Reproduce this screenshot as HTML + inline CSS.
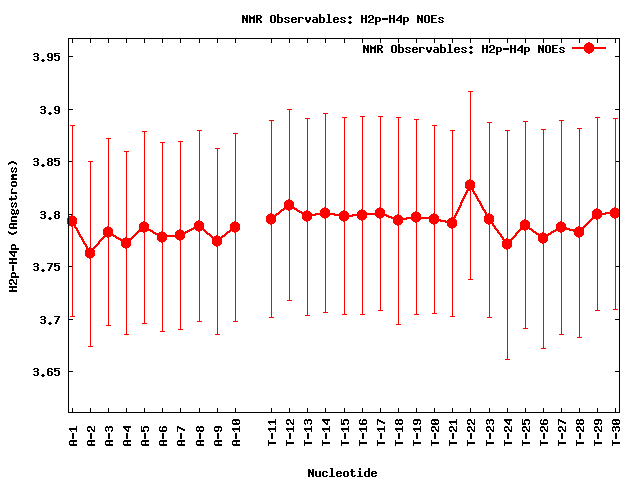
<!DOCTYPE html>
<html lang="en"><head><meta charset="utf-8"><title>NMR Observables: H2p-H4p NOEs</title>
<style>
html,body{margin:0;padding:0;background:#fff;overflow:hidden}
#c{position:absolute;left:0;top:0;width:640px;height:480px;background:#fff;overflow:hidden;font-family:"Liberation Mono",monospace;font-weight:bold;font-size:11.667px;line-height:13px}
#c svg{position:absolute;left:0;top:0;display:block}
.t{position:absolute;height:13px;white-space:pre;color:transparent;letter-spacing:0;overflow:hidden}
.v{transform-origin:0 0;transform:rotate(-90deg)}
</style></head><body>
<div id="c">
<svg width="640" height="480" viewBox="0 0 640 480" shape-rendering="crispEdges" role="img" aria-label="NMR Observables: H2p-H4p NOEs">
<rect width="640" height="480" fill="#fff"/>
<path fill="#f00" d="M588 42h2v1h-2zM586 43h6v1h-6zM585 44h8v1h-8zM584 45h10v2h-10zM572 47h34v2h-34zM584 49h10v2h-10zM585 51h8v1h-8zM586 52h6v1h-6zM588 53h2v1h-2zM468 91h5v1h-5zM470 92h1v87h-1zM287 109h5v1h-5zM289 110h1v89h-1zM323 113h5v1h-5zM325 114h1v93h-1zM360 116h5v1h-5zM378 116h5v1h-5zM342 117h5v1h-5zM362 117h1v92h-1zM380 117h1v90h-1zM396 117h5v1h-5zM595 117h5v1h-5zM305 118h5v1h-5zM344 118h1v92h-1zM398 118h1v96h-1zM597 118h1v90h-1zM613 118h5v1h-5zM307 119h1v91h-1zM414 119h5v1h-5zM615 119h1v88h-1zM269 120h5v1h-5zM416 120h1v91h-1zM559 120h5v1h-5zM271 121h1v92h-1zM523 121h5v1h-5zM561 121h1v100h-1zM487 122h5v1h-5zM525 122h1v97h-1zM489 123h1v90h-1zM70 125h5v1h-5zM432 125h5v1h-5zM72 126h1v89h-1zM434 126h1v87h-1zM577 128h5v1h-5zM541 129h5v1h-5zM579 129h1v97h-1zM197 130h5v1h-5zM450 130h5v1h-5zM505 130h5v1h-5zM543 130h1v102h-1zM142 131h5v1h-5zM199 131h1v89h-1zM452 131h1v86h-1zM507 131h1v107h-1zM144 132h1v89h-1zM233 133h5v1h-5zM235 134h1v87h-1zM106 138h5v1h-5zM108 139h1v87h-1zM178 141h5v1h-5zM160 142h5v1h-5zM180 142h1v87h-1zM162 143h1v88h-1zM215 148h5v1h-5zM217 149h1v86h-1zM124 151h5v1h-5zM126 152h1v85h-1zM88 161h5v1h-5zM90 162h1v85h-1zM469 179h2v1h-2zM467 180h6v1h-6zM466 181h8v1h-8zM465 182h10v6h-10zM466 188h8v1h-8zM467 189h7v1h-7zM466 190h5v1h-5zM472 190h2v1h-2zM466 191h2v1h-2zM470 191h1v88h-1zM472 191h3v1h-3zM465 192h3v1h-3zM473 192h2v1h-2zM465 193h2v1h-2zM473 193h3v1h-3zM464 194h3v1h-3zM474 194h3v1h-3zM464 195h2v1h-2zM475 195h2v1h-2zM463 196h3v1h-3zM475 196h3v1h-3zM463 197h2v1h-2zM476 197h2v1h-2zM462 198h3v1h-3zM476 198h3v1h-3zM288 199h2v1h-2zM462 199h2v1h-2zM477 199h2v1h-2zM286 200h6v1h-6zM461 200h3v1h-3zM477 200h3v1h-3zM285 201h8v1h-8zM461 201h2v1h-2zM478 201h3v1h-3zM284 202h10v5h-10zM460 202h3v1h-3zM479 202h2v1h-2zM460 203h2v2h-2zM479 203h3v1h-3zM480 204h2v1h-2zM459 205h3v1h-3zM480 205h3v1h-3zM459 206h2v1h-2zM481 206h2v1h-2zM284 207h11v1h-11zM324 207h2v1h-2zM379 207h2v1h-2zM458 207h3v1h-3zM481 207h3v1h-3zM614 207h2v1h-2zM283 208h14v1h-14zM322 208h6v1h-6zM377 208h6v1h-6zM458 208h2v1h-2zM482 208h2v1h-2zM596 208h2v1h-2zM612 208h6v1h-6zM281 209h4v1h-4zM286 209h6v1h-6zM294 209h4v1h-4zM321 209h8v1h-8zM361 209h2v1h-2zM376 209h8v1h-8zM457 209h3v1h-3zM482 209h3v1h-3zM594 209h6v1h-6zM611 209h8v1h-8zM280 210h4v1h-4zM288 210h2v1h-2zM296 210h4v1h-4zM306 210h2v1h-2zM320 210h10v3h-10zM343 210h2v1h-2zM359 210h6v1h-6zM375 210h10v3h-10zM457 210h2v1h-2zM483 210h3v1h-3zM593 210h8v1h-8zM610 210h9v2h-9zM279 211h3v1h-3zM289 211h1v89h-1zM297 211h5v1h-5zM304 211h6v1h-6zM341 211h6v1h-6zM358 211h8v1h-8zM415 211h2v1h-2zM456 211h3v1h-3zM484 211h2v1h-2zM592 211h10v2h-10zM278 212h3v1h-3zM299 212h12v1h-12zM340 212h8v1h-8zM357 212h10v1h-10zM413 212h6v1h-6zM456 212h2v1h-2zM484 212h3v1h-3zM605 212h14v1h-14zM270 213h2v1h-2zM276 213h4v1h-4zM301 213h11v1h-11zM315 213h20v1h-20zM339 213h10v1h-10zM357 213h28v1h-28zM412 213h8v1h-8zM433 213h2v1h-2zM455 213h3v1h-3zM485 213h2v1h-2zM488 213h2v1h-2zM592 213h27v1h-27zM268 214h6v1h-6zM275 214h4v1h-4zM302 214h47v1h-47zM352 214h35v1h-35zM397 214h2v1h-2zM411 214h10v3h-10zM431 214h6v1h-6zM455 214h2v1h-2zM485 214h7v1h-7zM592 214h14v1h-14zM610 214h9v2h-9zM71 215h2v1h-2zM267 215h10v1h-10zM302 215h14v1h-14zM320 215h10v1h-10zM334 215h33v1h-33zM375 215h14v1h-14zM395 215h6v1h-6zM430 215h8v1h-8zM454 215h3v1h-3zM485 215h8v1h-8zM592 215h10v2h-10zM69 216h6v1h-6zM266 216h10v6h-10zM302 216h10v3h-10zM321 216h8v1h-8zM339 216h14v1h-14zM357 216h10v2h-10zM376 216h8v1h-8zM386 216h6v1h-6zM394 216h8v1h-8zM429 216h10v1h-10zM454 216h2v1h-2zM484 216h10v6h-10zM611 216h8v1h-8zM69 217h7v1h-7zM322 217h6v1h-6zM339 217h10v2h-10zM377 217h6v1h-6zM388 217h15v1h-15zM406 217h33v1h-33zM451 217h5v1h-5zM592 217h9v1h-9zM612 217h6v1h-6zM67 218h1v6h-1zM69 218h8v6h-8zM324 218h2v1h-2zM358 218h8v1h-8zM379 218h2v1h-2zM391 218h48v1h-48zM449 218h6v1h-6zM591 218h9v1h-9zM614 218h2v1h-2zM303 219h8v1h-8zM325 219h1v93h-1zM340 219h8v1h-8zM359 219h6v1h-6zM380 219h1v91h-1zM393 219h14v1h-14zM411 219h10v1h-10zM429 219h12v1h-12zM448 219h8v1h-8zM524 219h2v1h-2zM590 219h3v1h-3zM596 219h2v1h-2zM615 219h1v90h-1zM198 220h2v1h-2zM304 220h6v1h-6zM341 220h6v1h-6zM361 220h2v1h-2zM393 220h10v3h-10zM412 220h8v1h-8zM429 220h17v1h-17zM447 220h10v1h-10zM522 220h6v1h-6zM589 220h3v1h-3zM597 220h1v90h-1zM143 221h2v1h-2zM196 221h6v1h-6zM234 221h2v1h-2zM306 221h2v1h-2zM343 221h2v1h-2zM362 221h1v93h-1zM413 221h6v1h-6zM429 221h10v1h-10zM440 221h17v1h-17zM521 221h8v1h-8zM560 221h2v1h-2zM588 221h3v1h-3zM141 222h6v1h-6zM195 222h8v1h-8zM232 222h6v1h-6zM267 222h8v1h-8zM307 222h1v93h-1zM344 222h1v92h-1zM415 222h2v1h-2zM430 222h8v1h-8zM445 222h12v1h-12zM485 222h8v1h-8zM520 222h10v6h-10zM558 222h6v1h-6zM587 222h3v1h-3zM140 223h8v1h-8zM194 223h10v4h-10zM231 223h8v1h-8zM268 223h6v1h-6zM394 223h8v1h-8zM416 223h1v91h-1zM431 223h6v1h-6zM447 223h10v3h-10zM486 223h8v1h-8zM557 223h8v1h-8zM586 223h3v1h-3zM69 224h7v2h-7zM139 224h10v5h-10zM230 224h10v6h-10zM270 224h2v1h-2zM395 224h6v1h-6zM433 224h2v1h-2zM488 224h2v1h-2zM492 224h2v1h-2zM556 224h10v3h-10zM585 224h3v1h-3zM271 225h1v92h-1zM397 225h2v1h-2zM434 225h1v88h-1zM489 225h1v92h-1zM492 225h3v1h-3zM584 225h3v1h-3zM71 226h2v1h-2zM74 226h2v1h-2zM107 226h2v1h-2zM398 226h1v98h-1zM448 226h8v1h-8zM493 226h3v1h-3zM578 226h2v1h-2zM583 226h3v1h-3zM72 227h1v89h-1zM74 227h3v1h-3zM105 227h6v1h-6zM193 227h11v1h-11zM449 227h6v1h-6zM494 227h2v1h-2zM556 227h11v1h-11zM576 227h9v1h-9zM75 228h3v1h-3zM104 228h8v1h-8zM191 228h13v1h-13zM451 228h2v1h-2zM494 228h3v1h-3zM520 228h12v1h-12zM556 228h14v1h-14zM575 228h9v1h-9zM76 229h2v1h-2zM103 229h10v5h-10zM139 229h12v1h-12zM179 229h2v1h-2zM189 229h5v1h-5zM195 229h10v1h-10zM452 229h1v87h-1zM495 229h3v1h-3zM519 229h9v1h-9zM529 229h4v1h-4zM555 229h29v1h-29zM76 230h3v1h-3zM138 230h15v1h-15zM177 230h6v1h-6zM187 230h5v1h-5zM196 230h6v1h-6zM203 230h3v1h-3zM229 230h10v1h-10zM496 230h3v1h-3zM518 230h3v1h-3zM524 230h2v1h-2zM531 230h3v1h-3zM553 230h12v1h-12zM569 230h15v1h-15zM77 231h2v1h-2zM137 231h10v1h-10zM150 231h4v1h-4zM161 231h2v1h-2zM176 231h8v1h-8zM185 231h5v1h-5zM198 231h2v1h-2zM204 231h3v1h-3zM227 231h4v1h-4zM232 231h6v1h-6zM497 231h2v1h-2zM517 231h3v1h-3zM525 231h1v97h-1zM532 231h4v1h-4zM551 231h5v1h-5zM558 231h6v1h-6zM573 231h11v1h-11zM77 232h3v1h-3zM136 232h3v1h-3zM143 232h2v1h-2zM152 232h4v1h-4zM159 232h6v1h-6zM175 232h13v1h-13zM199 232h1v89h-1zM205 232h3v1h-3zM226 232h4v1h-4zM234 232h2v1h-2zM497 232h3v1h-3zM516 232h3v1h-3zM533 232h4v1h-4zM542 232h2v1h-2zM550 232h4v1h-4zM560 232h2v1h-2zM574 232h10v3h-10zM78 233h2v1h-2zM135 233h3v1h-3zM144 233h1v90h-1zM153 233h13v1h-13zM175 233h11v1h-11zM206 233h4v1h-4zM225 233h3v1h-3zM235 233h1v88h-1zM498 233h3v1h-3zM515 233h3v1h-3zM535 233h4v1h-4zM540 233h6v1h-6zM548 233h4v1h-4zM561 233h1v101h-1zM78 234h3v1h-3zM103 234h11v1h-11zM134 234h3v1h-3zM155 234h12v1h-12zM175 234h10v1h-10zM207 234h4v1h-4zM224 234h3v1h-3zM499 234h3v1h-3zM515 234h2v1h-2zM536 234h15v1h-15zM79 235h2v1h-2zM104 235h12v1h-12zM133 235h3v1h-3zM157 235h28v2h-28zM209 235h3v1h-3zM216 235h2v1h-2zM222 235h4v1h-4zM500 235h2v1h-2zM514 235h3v1h-3zM538 235h11v1h-11zM575 235h8v1h-8zM79 236h3v1h-3zM103 236h8v1h-8zM113 236h4v1h-4zM132 236h3v1h-3zM210 236h3v1h-3zM214 236h6v1h-6zM221 236h4v1h-4zM500 236h3v1h-3zM513 236h3v1h-3zM538 236h10v5h-10zM576 236h6v1h-6zM80 237h3v1h-3zM102 237h3v1h-3zM107 237h2v1h-2zM115 237h4v1h-4zM125 237h2v1h-2zM131 237h3v1h-3zM157 237h10v3h-10zM175 237h10v1h-10zM211 237h12v1h-12zM501 237h3v1h-3zM512 237h3v1h-3zM578 237h2v1h-2zM81 238h2v1h-2zM101 238h3v1h-3zM108 238h1v87h-1zM116 238h5v1h-5zM123 238h10v1h-10zM176 238h8v1h-8zM212 238h10v6h-10zM502 238h2v1h-2zM506 238h2v1h-2zM511 238h3v1h-3zM579 238h1v99h-1zM81 239h3v1h-3zM100 239h3v1h-3zM118 239h14v1h-14zM177 239h6v1h-6zM502 239h11v1h-11zM82 240h2v1h-2zM99 240h3v1h-3zM120 240h11v1h-11zM158 240h8v1h-8zM179 240h2v1h-2zM503 240h9v1h-9zM82 241h3v1h-3zM98 241h3v1h-3zM121 241h10v5h-10zM159 241h6v1h-6zM180 241h1v88h-1zM502 241h10v6h-10zM539 241h8v1h-8zM83 242h2v1h-2zM98 242h2v1h-2zM161 242h2v1h-2zM540 242h6v1h-6zM83 243h3v1h-3zM97 243h3v1h-3zM162 243h1v88h-1zM542 243h2v1h-2zM84 244h3v1h-3zM96 244h3v1h-3zM213 244h8v1h-8zM543 244h1v104h-1zM85 245h2v1h-2zM95 245h3v1h-3zM214 245h6v1h-6zM85 246h3v1h-3zM94 246h3v1h-3zM122 246h8v1h-8zM216 246h2v1h-2zM86 247h2v1h-2zM89 247h2v1h-2zM93 247h3v1h-3zM123 247h6v1h-6zM217 247h1v87h-1zM503 247h8v1h-8zM86 248h9v1h-9zM125 248h2v1h-2zM504 248h6v1h-6zM86 249h8v1h-8zM126 249h1v85h-1zM506 249h2v1h-2zM85 250h10v6h-10zM507 250h1v109h-1zM86 256h8v1h-8zM87 257h6v1h-6zM89 258h2v1h-2zM90 259h1v87h-1zM468 279h5v1h-5zM287 300h5v1h-5zM613 309h5v1h-5zM378 310h5v1h-5zM595 310h5v1h-5zM323 312h5v1h-5zM432 313h5v1h-5zM342 314h5v1h-5zM360 314h5v1h-5zM414 314h5v1h-5zM305 315h5v1h-5zM70 316h5v1h-5zM450 316h5v1h-5zM269 317h5v1h-5zM487 317h5v1h-5zM197 321h5v1h-5zM233 321h5v1h-5zM142 323h5v1h-5zM396 324h5v1h-5zM106 325h5v1h-5zM523 328h5v1h-5zM178 329h5v1h-5zM160 331h5v1h-5zM124 334h5v1h-5zM215 334h5v1h-5zM559 334h5v1h-5zM577 337h5v1h-5zM88 346h5v1h-5zM541 348h5v1h-5zM505 359h5v1h-5z"/>
<path fill="#000" d="M277 14h2v3h-2zM319 14h2v3h-2zM327 14h3v1h-3zM242 15h2v1h-2zM246 15h2v3h-2zM249 15h1v1h-1zM254 15h1v1h-1zM256 15h5v1h-5zM271 15h4v1h-4zM328 15h2v7h-2zM361 15h2v3h-2zM365 15h2v3h-2zM369 15h4v1h-4zM389 15h2v3h-2zM393 15h2v3h-2zM400 15h2v1h-2zM417 15h2v1h-2zM421 15h2v3h-2zM425 15h4v1h-4zM431 15h6v1h-6zM242 16h3v2h-3zM249 16h2v1h-2zM253 16h2v1h-2zM256 16h2v2h-2zM260 16h2v2h-2zM270 16h2v6h-2zM274 16h2v6h-2zM349 16h2v1h-2zM368 16h2v2h-2zM372 16h2v3h-2zM399 16h3v1h-3zM417 16h3v2h-3zM424 16h2v6h-2zM428 16h2v6h-2zM431 16h2v2h-2zM249 17h6v2h-6zM277 17h5v1h-5zM285 17h4v1h-4zM292 17h4v1h-4zM298 17h5v1h-5zM305 17h2v3h-2zM309 17h2v3h-2zM313 17h4v1h-4zM319 17h5v1h-5zM334 17h4v1h-4zM341 17h4v1h-4zM348 17h4v1h-4zM375 17h5v1h-5zM398 17h4v1h-4zM403 17h5v1h-5zM439 17h4v1h-4zM242 18h6v1h-6zM256 18h5v1h-5zM277 18h2v4h-2zM281 18h2v4h-2zM284 18h2v1h-2zM288 18h2v1h-2zM291 18h2v1h-2zM295 18h2v1h-2zM298 18h2v5h-2zM302 18h2v1h-2zM316 18h2v1h-2zM319 18h2v4h-2zM323 18h2v4h-2zM333 18h2v1h-2zM337 18h2v1h-2zM340 18h2v1h-2zM344 18h2v1h-2zM349 18h2v1h-2zM361 18h6v1h-6zM375 18h2v3h-2zM379 18h2v3h-2zM382 18h6v2h-6zM389 18h6v1h-6zM397 18h2v1h-2zM400 18h2v2h-2zM403 18h2v3h-2zM407 18h2v3h-2zM417 18h6v1h-6zM431 18h5v1h-5zM438 18h2v1h-2zM442 18h2v1h-2zM242 19h2v4h-2zM245 19h3v2h-3zM249 19h2v4h-2zM253 19h2v4h-2zM256 19h4v1h-4zM285 19h2v1h-2zM291 19h6v1h-6zM313 19h5v1h-5zM333 19h6v1h-6zM341 19h2v1h-2zM361 19h2v4h-2zM365 19h2v4h-2zM370 19h3v1h-3zM389 19h2v4h-2zM393 19h2v4h-2zM396 19h2v1h-2zM417 19h2v4h-2zM420 19h3v2h-3zM431 19h2v3h-2zM439 19h2v1h-2zM256 20h2v3h-2zM259 20h2v1h-2zM287 20h2v1h-2zM291 20h2v2h-2zM306 20h4v2h-4zM312 20h2v2h-2zM316 20h2v2h-2zM333 20h2v2h-2zM343 20h2v1h-2zM369 20h2v1h-2zM396 20h6v1h-6zM441 20h2v1h-2zM246 21h2v2h-2zM260 21h2v2h-2zM284 21h2v1h-2zM288 21h2v1h-2zM295 21h2v1h-2zM337 21h2v1h-2zM340 21h2v1h-2zM344 21h2v1h-2zM349 21h2v1h-2zM368 21h2v1h-2zM375 21h5v1h-5zM400 21h2v2h-2zM403 21h5v1h-5zM421 21h2v2h-2zM438 21h2v1h-2zM442 21h2v1h-2zM271 22h4v1h-4zM277 22h5v1h-5zM285 22h4v1h-4zM292 22h4v1h-4zM307 22h2v1h-2zM313 22h5v1h-5zM319 22h5v1h-5zM326 22h6v1h-6zM334 22h4v1h-4zM341 22h4v1h-4zM348 22h4v1h-4zM368 22h6v1h-6zM375 22h2v3h-2zM403 22h2v3h-2zM425 22h4v1h-4zM431 22h6v1h-6zM439 22h4v1h-4zM349 23h2v1h-2zM68 38h552v1h-552zM68 39h1v17h-1zM72 39h1v4h-1zM90 39h1v4h-1zM108 39h1v4h-1zM126 39h1v4h-1zM144 39h1v4h-1zM162 39h1v4h-1zM180 39h1v4h-1zM199 39h1v4h-1zM217 39h1v4h-1zM235 39h1v4h-1zM271 39h1v4h-1zM289 39h1v4h-1zM307 39h1v4h-1zM325 39h1v4h-1zM344 39h1v4h-1zM362 39h1v4h-1zM380 39h1v4h-1zM398 39h1v4h-1zM416 39h1v4h-1zM434 39h1v4h-1zM452 39h1v4h-1zM470 39h1v4h-1zM489 39h1v4h-1zM507 39h1v4h-1zM525 39h1v4h-1zM543 39h1v4h-1zM561 39h1v4h-1zM579 39h1v4h-1zM597 39h1v4h-1zM615 39h1v4h-1zM619 39h1v17h-1zM398 44h2v3h-2zM440 44h2v3h-2zM448 44h3v1h-3zM363 45h2v1h-2zM367 45h2v3h-2zM370 45h1v1h-1zM375 45h1v1h-1zM377 45h5v1h-5zM392 45h4v1h-4zM449 45h2v7h-2zM482 45h2v3h-2zM486 45h2v3h-2zM490 45h4v1h-4zM510 45h2v3h-2zM514 45h2v3h-2zM521 45h2v1h-2zM538 45h2v1h-2zM542 45h2v3h-2zM546 45h4v1h-4zM552 45h6v1h-6zM363 46h3v2h-3zM370 46h2v1h-2zM374 46h2v1h-2zM377 46h2v2h-2zM381 46h2v2h-2zM391 46h2v6h-2zM395 46h2v6h-2zM470 46h2v1h-2zM489 46h2v2h-2zM493 46h2v3h-2zM520 46h3v1h-3zM538 46h3v2h-3zM545 46h2v6h-2zM549 46h2v6h-2zM552 46h2v2h-2zM370 47h6v2h-6zM398 47h5v1h-5zM406 47h4v1h-4zM413 47h4v1h-4zM419 47h5v1h-5zM426 47h2v3h-2zM430 47h2v3h-2zM434 47h4v1h-4zM440 47h5v1h-5zM455 47h4v1h-4zM462 47h4v1h-4zM469 47h4v1h-4zM496 47h5v1h-5zM519 47h4v1h-4zM524 47h5v1h-5zM560 47h4v1h-4zM363 48h6v1h-6zM377 48h5v1h-5zM398 48h2v4h-2zM402 48h2v4h-2zM405 48h2v1h-2zM409 48h2v1h-2zM412 48h2v1h-2zM416 48h2v1h-2zM419 48h2v5h-2zM423 48h2v1h-2zM437 48h2v1h-2zM440 48h2v4h-2zM444 48h2v4h-2zM454 48h2v1h-2zM458 48h2v1h-2zM461 48h2v1h-2zM465 48h2v1h-2zM470 48h2v1h-2zM482 48h6v1h-6zM496 48h2v3h-2zM500 48h2v3h-2zM503 48h6v2h-6zM510 48h6v1h-6zM518 48h2v1h-2zM521 48h2v2h-2zM524 48h2v3h-2zM528 48h2v3h-2zM538 48h6v1h-6zM552 48h5v1h-5zM559 48h2v1h-2zM563 48h2v1h-2zM363 49h2v4h-2zM366 49h3v2h-3zM370 49h2v4h-2zM374 49h2v4h-2zM377 49h4v1h-4zM406 49h2v1h-2zM412 49h6v1h-6zM434 49h5v1h-5zM454 49h6v1h-6zM462 49h2v1h-2zM482 49h2v4h-2zM486 49h2v4h-2zM491 49h3v1h-3zM510 49h2v4h-2zM514 49h2v4h-2zM517 49h2v1h-2zM538 49h2v4h-2zM541 49h3v2h-3zM552 49h2v3h-2zM560 49h2v1h-2zM377 50h2v3h-2zM380 50h2v1h-2zM408 50h2v1h-2zM412 50h2v2h-2zM427 50h4v2h-4zM433 50h2v2h-2zM437 50h2v2h-2zM454 50h2v2h-2zM464 50h2v1h-2zM490 50h2v1h-2zM517 50h6v1h-6zM562 50h2v1h-2zM367 51h2v2h-2zM381 51h2v2h-2zM405 51h2v1h-2zM409 51h2v1h-2zM416 51h2v1h-2zM458 51h2v1h-2zM461 51h2v1h-2zM465 51h2v1h-2zM470 51h2v1h-2zM489 51h2v1h-2zM496 51h5v1h-5zM521 51h2v2h-2zM524 51h5v1h-5zM542 51h2v2h-2zM559 51h2v1h-2zM563 51h2v1h-2zM392 52h4v1h-4zM398 52h5v1h-5zM406 52h4v1h-4zM413 52h4v1h-4zM428 52h2v1h-2zM434 52h5v1h-5zM440 52h5v1h-5zM447 52h6v1h-6zM455 52h4v1h-4zM462 52h4v1h-4zM469 52h4v1h-4zM489 52h6v1h-6zM496 52h2v3h-2zM524 52h2v3h-2zM546 52h4v1h-4zM552 52h6v1h-6zM560 52h4v1h-4zM34 53h4v1h-4zM48 53h4v1h-4zM54 53h6v1h-6zM470 53h2v1h-2zM33 54h2v1h-2zM37 54h2v2h-2zM47 54h2v3h-2zM51 54h2v3h-2zM54 54h2v1h-2zM54 55h5v1h-5zM34 56h4v1h-4zM54 56h2v1h-2zM58 56h2v4h-2zM68 56h5v1h-5zM615 56h5v1h-5zM37 57h2v3h-2zM48 57h5v1h-5zM68 57h1v52h-1zM619 57h1v52h-1zM51 58h2v2h-2zM33 59h2v1h-2zM42 59h2v1h-2zM47 59h2v1h-2zM54 59h2v1h-2zM34 60h4v1h-4zM41 60h4v1h-4zM48 60h4v1h-4zM55 60h4v1h-4zM42 61h2v1h-2zM41 106h4v1h-4zM55 106h4v1h-4zM40 107h2v1h-2zM44 107h2v2h-2zM54 107h2v3h-2zM58 107h2v3h-2zM41 109h4v1h-4zM68 109h5v1h-5zM615 109h5v1h-5zM44 110h2v3h-2zM55 110h5v1h-5zM68 110h1v51h-1zM619 110h1v51h-1zM58 111h2v2h-2zM40 112h2v1h-2zM49 112h2v1h-2zM54 112h2v1h-2zM41 113h4v1h-4zM48 113h4v1h-4zM55 113h4v1h-4zM49 114h2v1h-2zM34 158h4v1h-4zM48 158h4v1h-4zM54 158h6v1h-6zM33 159h2v1h-2zM37 159h2v2h-2zM47 159h2v2h-2zM51 159h2v2h-2zM54 159h2v1h-2zM54 160h5v1h-5zM11 161h3v1h-3zM34 161h4v1h-4zM48 161h4v1h-4zM54 161h2v1h-2zM58 161h2v4h-2zM68 161h4v1h-4zM616 161h4v1h-4zM9 162h7v1h-7zM37 162h2v3h-2zM47 162h2v3h-2zM51 162h2v3h-2zM68 162h1v52h-1zM619 162h1v104h-1zM8 163h3v1h-3zM14 163h3v1h-3zM8 164h1v1h-1zM16 164h1v1h-1zM33 164h2v1h-2zM42 164h2v1h-2zM54 164h2v1h-2zM34 165h4v1h-4zM41 165h4v1h-4zM48 165h4v1h-4zM55 165h4v1h-4zM42 166h2v1h-2zM12 167h1v1h-1zM15 167h1v1h-1zM11 168h2v1h-2zM14 168h3v1h-3zM11 169h1v2h-1zM14 169h1v1h-1zM16 169h1v2h-1zM13 170h1v1h-1zM11 171h3v1h-3zM15 171h2v1h-2zM12 172h1v1h-1zM15 172h1v1h-1zM12 174h5v1h-5zM11 175h6v1h-6zM11 176h3v1h-3zM12 177h2v1h-2zM11 178h6v2h-6zM12 181h4v1h-4zM11 182h6v1h-6zM11 183h1v2h-1zM16 183h1v2h-1zM11 185h6v1h-6zM12 186h4v1h-4zM12 188h1v1h-1zM11 189h2v1h-2zM11 190h1v2h-1zM11 192h6v2h-6zM15 195h1v1h-1zM11 196h1v2h-1zM15 196h2v1h-2zM16 197h1v1h-1zM9 198h8v1h-8zM9 199h7v1h-7zM11 200h1v1h-1zM12 202h1v1h-1zM15 202h1v1h-1zM11 203h2v1h-2zM14 203h3v1h-3zM11 204h1v2h-1zM14 204h1v1h-1zM16 204h1v2h-1zM13 205h1v1h-1zM11 206h3v1h-3zM15 206h2v1h-2zM12 207h1v1h-1zM15 207h1v1h-1zM11 209h3v1h-3zM17 209h1v1h-1zM12 210h3v1h-3zM16 210h3v1h-3zM11 211h1v2h-1zM14 211h1v2h-1zM16 211h1v2h-1zM18 211h1v2h-1zM41 211h4v1h-4zM55 211h4v1h-4zM40 212h2v1h-2zM44 212h2v2h-2zM54 212h2v2h-2zM58 212h2v2h-2zM11 213h8v1h-8zM12 214h2v1h-2zM15 214h1v1h-1zM17 214h1v1h-1zM41 214h4v1h-4zM55 214h4v1h-4zM68 214h4v1h-4zM44 215h2v3h-2zM54 215h2v3h-2zM58 215h2v3h-2zM68 215h1v51h-1zM12 216h5v1h-5zM11 217h6v1h-6zM40 217h2v1h-2zM49 217h2v1h-2zM11 218h1v2h-1zM41 218h4v1h-4zM48 218h4v1h-4zM55 218h4v1h-4zM49 219h2v1h-2zM11 220h6v2h-6zM10 223h7v1h-7zM9 224h8v1h-8zM9 225h1v2h-1zM13 225h1v2h-1zM9 227h8v1h-8zM10 228h7v1h-7zM8 231h1v1h-1zM16 231h1v1h-1zM8 232h3v1h-3zM14 232h3v1h-3zM9 233h7v1h-7zM11 234h3v1h-3zM12 244h3v1h-3zM11 245h5v1h-5zM11 246h1v2h-1zM15 246h1v2h-1zM11 248h8v2h-8zM9 251h8v2h-8zM10 253h2v1h-2zM14 253h1v2h-1zM11 254h2v1h-2zM12 255h3v1h-3zM13 256h2v1h-2zM9 258h8v2h-8zM12 260h1v2h-1zM9 262h8v2h-8zM34 263h4v1h-4zM47 263h6v1h-6zM54 263h6v1h-6zM33 264h2v1h-2zM37 264h2v2h-2zM51 264h2v1h-2zM54 264h2v1h-2zM12 265h2v6h-2zM50 265h2v2h-2zM54 265h5v1h-5zM34 266h4v1h-4zM54 266h2v1h-2zM58 266h2v4h-2zM68 266h4v1h-4zM616 266h4v1h-4zM37 267h2v3h-2zM49 267h2v2h-2zM68 267h1v52h-1zM619 267h1v52h-1zM33 269h2v1h-2zM42 269h2v1h-2zM48 269h2v2h-2zM54 269h2v1h-2zM34 270h4v1h-4zM41 270h4v1h-4zM55 270h4v1h-4zM42 271h2v1h-2zM12 272h3v1h-3zM11 273h5v1h-5zM11 274h1v2h-1zM15 274h1v2h-1zM11 276h8v2h-8zM10 279h3v1h-3zM16 279h1v4h-1zM9 280h5v1h-5zM9 281h1v2h-1zM13 281h1v1h-1zM13 282h2v1h-2zM9 283h3v1h-3zM14 283h3v1h-3zM10 284h2v1h-2zM15 284h2v1h-2zM9 286h8v2h-8zM12 288h1v2h-1zM9 290h8v2h-8zM41 316h4v1h-4zM54 316h6v1h-6zM40 317h2v1h-2zM44 317h2v2h-2zM58 317h2v1h-2zM57 318h2v2h-2zM41 319h4v1h-4zM68 319h5v1h-5zM615 319h5v1h-5zM44 320h2v3h-2zM56 320h2v2h-2zM68 320h1v51h-1zM619 320h1v51h-1zM40 322h2v1h-2zM49 322h2v1h-2zM55 322h2v2h-2zM41 323h4v1h-4zM48 323h4v1h-4zM49 324h2v1h-2zM34 368h4v1h-4zM48 368h4v1h-4zM54 368h6v1h-6zM33 369h2v1h-2zM37 369h2v2h-2zM47 369h2v2h-2zM51 369h2v1h-2zM54 369h2v1h-2zM54 370h5v1h-5zM34 371h4v1h-4zM47 371h5v1h-5zM54 371h2v1h-2zM58 371h2v4h-2zM68 371h5v1h-5zM615 371h5v1h-5zM37 372h2v3h-2zM47 372h2v3h-2zM51 372h2v3h-2zM68 372h1v40h-1zM619 372h1v40h-1zM33 374h2v1h-2zM42 374h2v1h-2zM54 374h2v1h-2zM34 375h4v1h-4zM41 375h4v1h-4zM48 375h4v1h-4zM55 375h4v1h-4zM42 376h2v1h-2zM72 408h1v4h-1zM90 408h1v4h-1zM108 408h1v4h-1zM126 408h1v4h-1zM144 408h1v4h-1zM162 408h1v4h-1zM180 408h1v4h-1zM199 408h1v4h-1zM217 408h1v4h-1zM235 408h1v4h-1zM271 408h1v4h-1zM289 408h1v4h-1zM307 408h1v4h-1zM325 408h1v4h-1zM344 408h1v4h-1zM362 408h1v4h-1zM380 408h1v4h-1zM398 408h1v4h-1zM416 408h1v4h-1zM434 408h1v4h-1zM452 408h1v4h-1zM470 408h1v4h-1zM489 408h1v4h-1zM507 408h1v4h-1zM525 408h1v4h-1zM543 408h1v4h-1zM561 408h1v4h-1zM579 408h1v4h-1zM597 408h1v4h-1zM615 408h1v4h-1zM68 412h552v1h-552zM233 419h6v1h-6zM275 419h1v2h-1zM287 419h3v1h-3zM293 419h1v4h-1zM305 419h2v1h-2zM308 419h3v1h-3zM322 419h8v2h-8zM341 419h1v4h-1zM344 419h4v1h-4zM360 419h1v1h-1zM363 419h3v1h-3zM377 419h2v1h-2zM396 419h2v1h-2zM399 419h3v1h-3zM414 419h6v1h-6zM432 419h6v1h-6zM456 419h1v2h-1zM468 419h3v1h-3zM474 419h1v4h-1zM487 419h2v1h-2zM490 419h3v1h-3zM504 419h8v2h-8zM522 419h1v4h-1zM525 419h4v1h-4zM541 419h1v1h-1zM544 419h3v1h-3zM558 419h2v1h-2zM577 419h2v1h-2zM580 419h3v1h-3zM595 419h6v1h-6zM613 419h6v1h-6zM232 420h8v1h-8zM286 420h5v1h-5zM304 420h8v1h-8zM343 420h6v1h-6zM359 420h2v1h-2zM362 420h5v1h-5zM377 420h4v1h-4zM395 420h8v1h-8zM413 420h8v1h-8zM431 420h8v1h-8zM467 420h5v1h-5zM486 420h8v1h-8zM524 420h6v1h-6zM540 420h2v1h-2zM543 420h5v1h-5zM558 420h4v1h-4zM576 420h8v1h-8zM594 420h8v1h-8zM612 420h8v1h-8zM232 421h1v2h-1zM235 421h1v1h-1zM239 421h1v2h-1zM268 421h8v2h-8zM286 421h1v2h-1zM290 421h1v1h-1zM304 421h1v2h-1zM307 421h1v3h-1zM311 421h1v2h-1zM323 421h2v1h-2zM327 421h1v2h-1zM343 421h1v2h-1zM348 421h1v2h-1zM359 421h1v2h-1zM362 421h1v2h-1zM366 421h1v2h-1zM377 421h1v4h-1zM379 421h4v1h-4zM395 421h1v2h-1zM398 421h1v2h-1zM402 421h1v2h-1zM413 421h1v2h-1zM417 421h1v2h-1zM420 421h1v2h-1zM431 421h1v2h-1zM434 421h1v1h-1zM438 421h1v2h-1zM449 421h8v2h-8zM467 421h1v2h-1zM471 421h1v1h-1zM486 421h1v2h-1zM489 421h1v3h-1zM493 421h1v2h-1zM505 421h2v1h-2zM509 421h1v2h-1zM524 421h1v2h-1zM529 421h1v2h-1zM540 421h1v2h-1zM543 421h1v2h-1zM547 421h1v2h-1zM558 421h1v4h-1zM560 421h4v1h-4zM576 421h1v2h-1zM579 421h1v2h-1zM583 421h1v2h-1zM594 421h1v2h-1zM598 421h1v2h-1zM601 421h1v2h-1zM612 421h1v2h-1zM615 421h1v1h-1zM619 421h1v2h-1zM236 422h1v1h-1zM290 422h2v1h-2zM324 422h2v1h-2zM381 422h4v1h-4zM435 422h1v1h-1zM471 422h2v1h-2zM506 422h2v1h-2zM562 422h4v1h-4zM616 422h1v1h-1zM232 423h8v1h-8zM269 423h1v1h-1zM275 423h1v2h-1zM286 423h3v1h-3zM291 423h3v1h-3zM304 423h2v1h-2zM310 423h2v1h-2zM325 423h3v1h-3zM341 423h4v2h-4zM347 423h2v1h-2zM359 423h8v1h-8zM383 423h2v1h-2zM395 423h8v1h-8zM413 423h5v1h-5zM419 423h2v1h-2zM431 423h8v1h-8zM450 423h1v1h-1zM456 423h1v2h-1zM467 423h3v1h-3zM472 423h3v1h-3zM486 423h2v1h-2zM492 423h2v1h-2zM507 423h3v1h-3zM522 423h4v2h-4zM528 423h2v1h-2zM540 423h8v1h-8zM564 423h2v1h-2zM576 423h8v1h-8zM594 423h5v1h-5zM600 423h2v1h-2zM612 423h8v1h-8zM233 424h6v1h-6zM270 424h1v1h-1zM287 424h2v1h-2zM292 424h2v1h-2zM305 424h1v1h-1zM310 424h1v1h-1zM326 424h2v1h-2zM347 424h1v1h-1zM360 424h6v1h-6zM396 424h2v1h-2zM399 424h3v1h-3zM414 424h3v1h-3zM419 424h1v1h-1zM432 424h6v1h-6zM451 424h1v1h-1zM468 424h2v1h-2zM473 424h2v1h-2zM487 424h1v1h-1zM492 424h1v1h-1zM508 424h2v1h-2zM528 424h1v1h-1zM541 424h6v1h-6zM577 424h2v1h-2zM580 424h3v1h-3zM595 424h3v1h-3zM600 424h1v1h-1zM613 424h6v1h-6zM76 426h1v2h-1zM88 426h3v1h-3zM94 426h1v4h-1zM106 426h2v1h-2zM109 426h3v1h-3zM123 426h8v2h-8zM141 426h1v4h-1zM144 426h4v1h-4zM160 426h1v1h-1zM163 426h3v1h-3zM177 426h2v1h-2zM197 426h2v1h-2zM200 426h3v1h-3zM215 426h6v1h-6zM239 426h1v2h-1zM275 426h1v2h-1zM293 426h1v2h-1zM311 426h1v2h-1zM329 426h1v2h-1zM348 426h1v2h-1zM366 426h1v2h-1zM384 426h1v2h-1zM402 426h1v2h-1zM420 426h1v2h-1zM432 426h3v1h-3zM438 426h1v4h-1zM450 426h3v1h-3zM456 426h1v4h-1zM468 426h3v1h-3zM474 426h1v4h-1zM487 426h3v1h-3zM493 426h1v4h-1zM505 426h3v1h-3zM511 426h1v4h-1zM523 426h3v1h-3zM529 426h1v4h-1zM541 426h3v1h-3zM547 426h1v4h-1zM559 426h3v1h-3zM565 426h1v4h-1zM577 426h3v1h-3zM583 426h1v4h-1zM595 426h3v1h-3zM601 426h1v4h-1zM613 426h2v1h-2zM616 426h3v1h-3zM87 427h5v1h-5zM105 427h8v1h-8zM143 427h6v1h-6zM159 427h2v1h-2zM162 427h5v1h-5zM177 427h4v1h-4zM196 427h8v1h-8zM214 427h8v1h-8zM431 427h5v1h-5zM449 427h5v1h-5zM467 427h5v1h-5zM486 427h5v1h-5zM504 427h5v1h-5zM522 427h5v1h-5zM540 427h5v1h-5zM558 427h5v1h-5zM576 427h5v1h-5zM594 427h5v1h-5zM612 427h8v1h-8zM69 428h8v2h-8zM87 428h1v2h-1zM91 428h1v1h-1zM105 428h1v2h-1zM108 428h1v3h-1zM112 428h1v2h-1zM124 428h2v1h-2zM128 428h1v2h-1zM143 428h1v2h-1zM148 428h1v2h-1zM159 428h1v2h-1zM162 428h1v2h-1zM166 428h1v2h-1zM177 428h1v4h-1zM179 428h4v1h-4zM196 428h1v2h-1zM199 428h1v2h-1zM203 428h1v2h-1zM214 428h1v2h-1zM218 428h1v2h-1zM221 428h1v2h-1zM232 428h8v2h-8zM268 428h8v2h-8zM286 428h8v2h-8zM304 428h8v2h-8zM322 428h8v2h-8zM341 428h8v2h-8zM359 428h8v2h-8zM377 428h8v2h-8zM395 428h8v2h-8zM413 428h8v2h-8zM431 428h1v2h-1zM435 428h1v1h-1zM449 428h1v2h-1zM453 428h1v1h-1zM467 428h1v2h-1zM471 428h1v1h-1zM486 428h1v2h-1zM490 428h1v1h-1zM504 428h1v2h-1zM508 428h1v1h-1zM522 428h1v2h-1zM526 428h1v1h-1zM540 428h1v2h-1zM544 428h1v1h-1zM558 428h1v2h-1zM562 428h1v1h-1zM576 428h1v2h-1zM580 428h1v1h-1zM594 428h1v2h-1zM598 428h1v1h-1zM612 428h1v2h-1zM615 428h1v3h-1zM619 428h1v2h-1zM91 429h2v1h-2zM125 429h2v1h-2zM181 429h4v1h-4zM435 429h2v1h-2zM453 429h2v1h-2zM471 429h2v1h-2zM490 429h2v1h-2zM508 429h2v1h-2zM526 429h2v1h-2zM544 429h2v1h-2zM562 429h2v1h-2zM580 429h2v1h-2zM598 429h2v1h-2zM70 430h1v1h-1zM76 430h1v2h-1zM87 430h3v1h-3zM92 430h3v1h-3zM105 430h2v1h-2zM111 430h2v1h-2zM126 430h3v1h-3zM141 430h4v2h-4zM147 430h2v1h-2zM159 430h8v1h-8zM183 430h2v1h-2zM196 430h8v1h-8zM214 430h5v1h-5zM220 430h2v1h-2zM233 430h1v1h-1zM239 430h1v2h-1zM269 430h1v1h-1zM275 430h1v2h-1zM287 430h1v1h-1zM293 430h1v2h-1zM305 430h1v1h-1zM311 430h1v2h-1zM323 430h1v1h-1zM329 430h1v2h-1zM342 430h1v1h-1zM348 430h1v2h-1zM360 430h1v1h-1zM366 430h1v2h-1zM378 430h1v1h-1zM384 430h1v2h-1zM396 430h1v1h-1zM402 430h1v2h-1zM414 430h1v1h-1zM420 430h1v2h-1zM431 430h3v1h-3zM436 430h3v1h-3zM449 430h3v1h-3zM454 430h3v1h-3zM467 430h3v1h-3zM472 430h3v1h-3zM486 430h3v1h-3zM491 430h3v1h-3zM504 430h3v1h-3zM509 430h3v1h-3zM522 430h3v1h-3zM527 430h3v1h-3zM540 430h3v1h-3zM545 430h3v1h-3zM558 430h3v1h-3zM563 430h3v1h-3zM576 430h3v1h-3zM581 430h3v1h-3zM594 430h3v1h-3zM599 430h3v1h-3zM612 430h2v1h-2zM618 430h2v1h-2zM71 431h1v1h-1zM88 431h2v1h-2zM93 431h2v1h-2zM106 431h1v1h-1zM111 431h1v1h-1zM127 431h2v1h-2zM147 431h1v1h-1zM160 431h6v1h-6zM197 431h2v1h-2zM200 431h3v1h-3zM215 431h3v1h-3zM220 431h1v1h-1zM234 431h1v1h-1zM270 431h1v1h-1zM288 431h1v1h-1zM306 431h1v1h-1zM324 431h1v1h-1zM343 431h1v1h-1zM361 431h1v1h-1zM379 431h1v1h-1zM397 431h1v1h-1zM415 431h1v1h-1zM432 431h2v1h-2zM437 431h2v1h-2zM450 431h2v1h-2zM455 431h2v1h-2zM468 431h2v1h-2zM473 431h2v1h-2zM487 431h2v1h-2zM492 431h2v1h-2zM505 431h2v1h-2zM510 431h2v1h-2zM523 431h2v1h-2zM528 431h2v1h-2zM541 431h2v1h-2zM546 431h2v1h-2zM559 431h2v1h-2zM564 431h2v1h-2zM577 431h2v1h-2zM582 431h2v1h-2zM595 431h2v1h-2zM600 431h2v1h-2zM613 431h1v1h-1zM618 431h1v1h-1zM72 433h2v6h-2zM90 433h2v6h-2zM108 433h2v6h-2zM126 433h2v6h-2zM144 433h2v6h-2zM162 433h2v6h-2zM180 433h2v6h-2zM199 433h2v6h-2zM217 433h2v6h-2zM235 433h2v6h-2zM271 433h2v6h-2zM289 433h2v6h-2zM307 433h2v6h-2zM325 433h2v6h-2zM344 433h2v6h-2zM362 433h2v6h-2zM380 433h2v6h-2zM398 433h2v6h-2zM416 433h2v6h-2zM434 433h2v6h-2zM452 433h2v6h-2zM470 433h2v6h-2zM489 433h2v6h-2zM507 433h2v6h-2zM525 433h2v6h-2zM543 433h2v6h-2zM561 433h2v6h-2zM579 433h2v6h-2zM597 433h2v6h-2zM615 433h2v6h-2zM70 440h7v1h-7zM88 440h7v1h-7zM106 440h7v1h-7zM124 440h7v1h-7zM142 440h7v1h-7zM160 440h7v1h-7zM178 440h7v1h-7zM197 440h7v1h-7zM215 440h7v1h-7zM233 440h7v1h-7zM268 440h1v2h-1zM286 440h1v2h-1zM304 440h1v2h-1zM322 440h1v2h-1zM341 440h1v2h-1zM359 440h1v2h-1zM377 440h1v2h-1zM395 440h1v2h-1zM413 440h1v2h-1zM431 440h1v2h-1zM449 440h1v2h-1zM467 440h1v2h-1zM486 440h1v2h-1zM504 440h1v2h-1zM522 440h1v2h-1zM540 440h1v2h-1zM558 440h1v2h-1zM576 440h1v2h-1zM594 440h1v2h-1zM612 440h1v2h-1zM69 441h8v1h-8zM87 441h8v1h-8zM105 441h8v1h-8zM123 441h8v1h-8zM141 441h8v1h-8zM159 441h8v1h-8zM177 441h8v1h-8zM196 441h8v1h-8zM214 441h8v1h-8zM232 441h8v1h-8zM69 442h1v2h-1zM73 442h1v2h-1zM87 442h1v2h-1zM91 442h1v2h-1zM105 442h1v2h-1zM109 442h1v2h-1zM123 442h1v2h-1zM127 442h1v2h-1zM141 442h1v2h-1zM145 442h1v2h-1zM159 442h1v2h-1zM163 442h1v2h-1zM177 442h1v2h-1zM181 442h1v2h-1zM196 442h1v2h-1zM200 442h1v2h-1zM214 442h1v2h-1zM218 442h1v2h-1zM232 442h1v2h-1zM236 442h1v2h-1zM268 442h8v2h-8zM286 442h8v2h-8zM304 442h8v2h-8zM322 442h8v2h-8zM341 442h8v2h-8zM359 442h8v2h-8zM377 442h8v2h-8zM395 442h8v2h-8zM413 442h8v2h-8zM431 442h8v2h-8zM449 442h8v2h-8zM467 442h8v2h-8zM486 442h8v2h-8zM504 442h8v2h-8zM522 442h8v2h-8zM540 442h8v2h-8zM558 442h8v2h-8zM576 442h8v2h-8zM594 442h8v2h-8zM612 442h8v2h-8zM69 444h8v1h-8zM87 444h8v1h-8zM105 444h8v1h-8zM123 444h8v1h-8zM141 444h8v1h-8zM159 444h8v1h-8zM177 444h8v1h-8zM196 444h8v1h-8zM214 444h8v1h-8zM232 444h8v1h-8zM268 444h1v2h-1zM286 444h1v2h-1zM304 444h1v2h-1zM322 444h1v2h-1zM341 444h1v2h-1zM359 444h1v2h-1zM377 444h1v2h-1zM395 444h1v2h-1zM413 444h1v2h-1zM431 444h1v2h-1zM449 444h1v2h-1zM467 444h1v2h-1zM486 444h1v2h-1zM504 444h1v2h-1zM522 444h1v2h-1zM540 444h1v2h-1zM558 444h1v2h-1zM576 444h1v2h-1zM594 444h1v2h-1zM612 444h1v2h-1zM70 445h7v1h-7zM88 445h7v1h-7zM106 445h7v1h-7zM124 445h7v1h-7zM142 445h7v1h-7zM160 445h7v1h-7zM178 445h7v1h-7zM197 445h7v1h-7zM215 445h7v1h-7zM233 445h7v1h-7zM330 468h3v1h-3zM359 468h2v2h-2zM368 468h2v3h-2zM308 469h2v1h-2zM312 469h2v3h-2zM331 469h2v7h-2zM351 469h2v2h-2zM308 470h3v2h-3zM315 471h2v5h-2zM319 471h2v5h-2zM323 471h4v1h-4zM337 471h4v1h-4zM344 471h4v1h-4zM350 471h5v1h-5zM358 471h3v1h-3zM365 471h5v1h-5zM372 471h4v1h-4zM308 472h6v1h-6zM322 472h2v4h-2zM326 472h2v1h-2zM336 472h2v1h-2zM340 472h2v1h-2zM343 472h2v4h-2zM347 472h2v4h-2zM351 472h2v4h-2zM359 472h2v4h-2zM364 472h2v4h-2zM368 472h2v4h-2zM371 472h2v1h-2zM375 472h2v1h-2zM308 473h2v4h-2zM311 473h3v2h-3zM336 473h6v1h-6zM371 473h6v1h-6zM336 474h2v2h-2zM371 474h2v2h-2zM312 475h2v2h-2zM326 475h2v1h-2zM340 475h2v1h-2zM354 475h2v1h-2zM375 475h2v1h-2zM316 476h5v1h-5zM323 476h4v1h-4zM329 476h6v1h-6zM337 476h4v1h-4zM344 476h4v1h-4zM352 476h3v1h-3zM357 476h6v1h-6zM365 476h5v1h-5zM372 476h4v1h-4z"/>
</svg>
<div class="t" style="left:242px;top:12px;width:203px">NMR Observables: H2p-H4p NOEs</div>
<div class="t" style="left:363px;top:42px;width:203px">NMR Observables: H2p-H4p NOEs</div>
<div class="t" style="left:308px;top:466px;width:70px">Nucleotide</div>
<div class="t v" style="left:6px;top:292px;width:133px">H2p-H4p (Angstroms)</div>
<div class="t" style="left:33px;top:50px;width:28px">3.95</div>
<div class="t" style="left:40px;top:103px;width:21px">3.9</div>
<div class="t" style="left:33px;top:155px;width:28px">3.85</div>
<div class="t" style="left:40px;top:208px;width:21px">3.8</div>
<div class="t" style="left:33px;top:260px;width:28px">3.75</div>
<div class="t" style="left:40px;top:313px;width:21px">3.7</div>
<div class="t" style="left:33px;top:365px;width:28px">3.65</div>
<div class="t v" style="left:66px;top:446px;width:21px">A-1</div>
<div class="t v" style="left:84px;top:446px;width:21px">A-2</div>
<div class="t v" style="left:102px;top:446px;width:21px">A-3</div>
<div class="t v" style="left:120px;top:446px;width:21px">A-4</div>
<div class="t v" style="left:138px;top:446px;width:21px">A-5</div>
<div class="t v" style="left:156px;top:446px;width:21px">A-6</div>
<div class="t v" style="left:174px;top:446px;width:21px">A-7</div>
<div class="t v" style="left:193px;top:446px;width:21px">A-8</div>
<div class="t v" style="left:211px;top:446px;width:21px">A-9</div>
<div class="t v" style="left:229px;top:446px;width:28px">A-10</div>
<div class="t v" style="left:265px;top:446px;width:28px">T-11</div>
<div class="t v" style="left:283px;top:446px;width:28px">T-12</div>
<div class="t v" style="left:301px;top:446px;width:28px">T-13</div>
<div class="t v" style="left:319px;top:446px;width:28px">T-14</div>
<div class="t v" style="left:338px;top:446px;width:28px">T-15</div>
<div class="t v" style="left:356px;top:446px;width:28px">T-16</div>
<div class="t v" style="left:374px;top:446px;width:28px">T-17</div>
<div class="t v" style="left:392px;top:446px;width:28px">T-18</div>
<div class="t v" style="left:410px;top:446px;width:28px">T-19</div>
<div class="t v" style="left:428px;top:446px;width:28px">T-20</div>
<div class="t v" style="left:446px;top:446px;width:28px">T-21</div>
<div class="t v" style="left:464px;top:446px;width:28px">T-22</div>
<div class="t v" style="left:483px;top:446px;width:28px">T-23</div>
<div class="t v" style="left:501px;top:446px;width:28px">T-24</div>
<div class="t v" style="left:519px;top:446px;width:28px">T-25</div>
<div class="t v" style="left:537px;top:446px;width:28px">T-26</div>
<div class="t v" style="left:555px;top:446px;width:28px">T-27</div>
<div class="t v" style="left:573px;top:446px;width:28px">T-28</div>
<div class="t v" style="left:591px;top:446px;width:28px">T-29</div>
<div class="t v" style="left:609px;top:446px;width:28px">T-30</div>
</div>
</body></html>
